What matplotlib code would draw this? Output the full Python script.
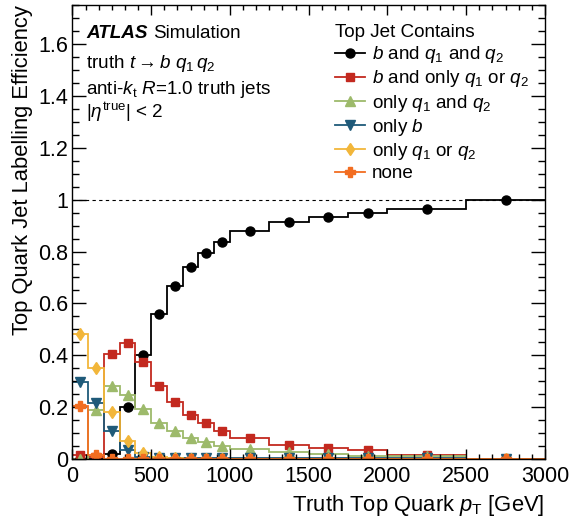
import numpy as np
import matplotlib
matplotlib.use("Agg")
import matplotlib.pyplot as plt
from matplotlib.ticker import MultipleLocator, FuncFormatter

plt.rcParams['font.family'] = ['Liberation Sans', 'DejaVu Sans']
plt.rcParams['mathtext.fontset'] = 'custom'
plt.rcParams['mathtext.rm'] = 'Liberation Sans'
plt.rcParams['mathtext.it'] = 'Liberation Sans:italic'
plt.rcParams['mathtext.bf'] = 'Liberation Sans:bold'

# ---------------------
# Data
# ---------------------
bin_edges = [0, 100, 200, 300, 400, 500, 600, 700, 800, 900, 1000,
             1250, 1500, 1750, 2000, 2500, 3000]

eff_bqq = [0.0, 0.0, 0.02, 0.20, 0.40, 0.56, 0.666, 0.742, 0.793, 0.835,
           0.88, 0.914, 0.933, 0.95, 0.965, 1.0]
eff_bq = [0.015, 0.01, 0.406, 0.447, 0.375, 0.283, 0.219, 0.170, 0.138, 0.108,
          0.080, 0.054, 0.044, 0.036, 0.015, 0.0]
eff_qq = [0.0, 0.19, 0.28, 0.248, 0.195, 0.139, 0.11, 0.083, 0.066, 0.051,
          0.038, 0.026, 0.018, 0.013, 0.013, 0.0]
eff_b = [0.297, 0.218, 0.11, 0.037, 0.01, 0.005, 0.004, 0.004, 0.004, 0.004,
         0.004, 0.003, 0.003, 0.003, 0.003, 0.001]
eff_q = [0.483, 0.353, 0.181, 0.068, 0.023, 0.008, 0.004, 0.002, 0.002, 0.002,
         0.002, 0.001, 0.001, 0.001, 0.001, 0.0]
eff_none = [0.203, 0.015, 0.002, 0.001, 0.001, 0.001, 0.001, 0.001, 0.001, 0.001,
            0.001, 0.001, 0.001, 0.001, 0.001, 0.001]

labels = [r"$b$ and $q_1$ and $q_2$",
          r"$b$ and only $q_1$ or $q_2$",
          r"only $q_1$ and $q_2$",
          r"only $b$",
          r"only $q_1$ or $q_2$",
          "none"]

# ---------------------
# Styles
# ---------------------
series = [eff_bqq, eff_bq, eff_qq, eff_b, eff_q, eff_none]
colors = ["black", "#c3291f", "#9dba6b", "#1f5a79", "#f2b63a", "#f26d21"]
markers = ["o", "s", "^", "v", "d", "P"]
msizes = [6.5, 6, 6.5, 6.5, 6, 7]

edges = np.array(bin_edges)
centers = 0.5 * (edges[1:] + edges[:-1])

fig = plt.figure(figsize=(5.7, 5.25), dpi=100)
ax = fig.add_axes([0.127, 0.1255, 0.829, 0.865])

for vals, c, m, ms in zip(series, colors, markers, msizes):
    ax.stairs(vals, edges, color=c, lw=1.3, baseline=None)
    ax.plot(centers, vals, ls='none', marker=m, ms=ms, color=c, mec=c)

ax.axhline(1.0, color='black', lw=0.8, ls=(0, (3, 3)))

ax.set_xlim(0, 3000)
ax.set_ylim(0, 1.75)

ax.xaxis.set_major_locator(MultipleLocator(500))
ax.xaxis.set_minor_locator(MultipleLocator(500 / 6))
ax.yaxis.set_major_locator(MultipleLocator(0.2))
ax.yaxis.set_minor_locator(MultipleLocator(0.05))
ax.yaxis.set_major_formatter(FuncFormatter(lambda v, p: f"{v:g}"))

ax.tick_params(which='both', direction='in', top=True, right=True,
               labelsize=15.5, width=1.0)
ax.tick_params(axis='x', which='major', length=7, pad=5)
ax.tick_params(axis='x', which='minor', length=3.5)
ax.tick_params(axis='y', which='major', length=10, pad=3)
ax.tick_params(axis='y', which='minor', length=5)
for s in ax.spines.values():
    s.set_linewidth(1.0)

ax.set_xlabel(r"Truth Top Quark $p_{\rm T}$ [GeV]", fontsize=15.8, loc='right',
              labelpad=4)
ax.set_ylabel("Top Quark Jet Labelling Efficiency", fontsize=15.8, loc='top',
              labelpad=4)

# ATLAS label block
fs = 13.6
tx = (86 - 72) / 473
ax.text(tx, 1 - 33 / 454, "ATLAS", transform=ax.transAxes, fontsize=fs,
        fontweight='bold', fontstyle='italic', va='baseline')
ax.text(tx + 0.142, 1 - 33 / 454, "Simulation", transform=ax.transAxes,
        fontsize=fs, va='baseline')
ax.text(tx, 1 - 63 / 454, r"truth $t \rightarrow b\ q_1\, q_2$",
        transform=ax.transAxes, fontsize=fs, va='baseline')
ax.text(tx, 1 - 89 / 454, r"anti-$k_{\rm t}$ $R$=1.0 truth jets",
        transform=ax.transAxes, fontsize=fs, va='baseline')
ax.text(tx, 1 - 113 / 454, r"|$\eta^{\rm true}$| < 2",
        transform=ax.transAxes, fontsize=fs, va='baseline')

# legend with line+marker handles
leg_handles = []
for c, m, ms in zip(colors, markers, msizes):
    lh, = ax.plot([], [], color=c, marker=m, ms=ms, lw=1.3)
    leg_handles.append(lh)
leg = ax.legend(leg_handles, labels, title="Top Jet Contains", loc='upper left',
                bbox_to_anchor=((335 - 72) / 473, 1 - 19 / 454), frameon=False,
                fontsize=fs, title_fontsize=fs, handlelength=1.6,
                handletextpad=0.35, labelspacing=0.17, borderpad=0,
                borderaxespad=0, alignment='left')

fig.savefig("out.png", dpi=100)
